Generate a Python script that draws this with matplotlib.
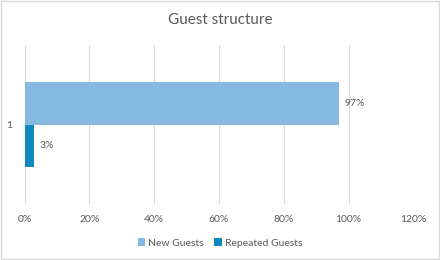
import matplotlib
matplotlib.use("Agg")
import matplotlib.pyplot as plt
from matplotlib.patches import Rectangle

categories = ["1"]
series_names = ["New Guests", "Repeated Guests"]
new_guests = [0.97]
repeated_guests = [0.03]
x_ticks = [0, 0.2, 0.4, 0.6, 0.8, 1.0, 1.2]
x_tick_labels = ["0%", "20%", "40%", "60%", "80%", "100%", "120%"]
colors = ["#86BAE0", "#0F88BF"]

plt.rcParams['font.family'] = ['Lato', 'DejaVu Sans']
txt = "#595959"

fig = plt.figure(figsize=(4.4, 2.6), dpi=100)
fig.patches.append(Rectangle((0.002, 0.004), 0.996, 0.992, transform=fig.transFigure,
                             fill=False, edgecolor="#D9D9D9", linewidth=1.0))
ax = fig.add_axes([24.5/440, 1 - 204/260, (413.5-24.5)/440, (204-45)/260])

h = 0.265
y0 = 0
vals = [new_guests[0], repeated_guests[0]]
offsets = [h/2, -h/2]
for name, v, off, c in zip(series_names, vals, offsets, colors):
    ax.barh([y0 + off], [v], height=h, color=c, label=name, zorder=3)
    ax.text(v + 0.017, y0 + off, f"{round(v*100)}%", va="center", ha="left",
            fontsize=7.5, color=txt)

ax.set_xlim(0, 1.2)
ax.set_ylim(-0.5, 0.5)
ax.set_xticks(x_ticks)
ax.set_xticklabels(x_tick_labels, fontsize=7.5, color=txt)
ax.set_yticks([0])
ax.set_yticklabels(categories, fontsize=7.5, color=txt)
ax.tick_params(axis="both", length=0)
ax.tick_params(axis="x", pad=8)
ax.tick_params(axis="y", pad=9)
ax.grid(axis="x", color="#D9D9D9", linewidth=0.8, zorder=0)
for s in ax.spines.values():
    s.set_visible(False)

fig.text(0.5, 1 - 20/260, "Guest structure", ha="center", va="center",
         fontsize=11, color=txt)

fig.legend(loc="center", bbox_to_anchor=(0.5, 1 - 243/260), ncol=2,
           frameon=False, fontsize=7.5, handlelength=0.7, handleheight=0.7,
           handletextpad=0.3, columnspacing=1.0, labelcolor=txt)

fig.savefig("out.png", dpi=100)
